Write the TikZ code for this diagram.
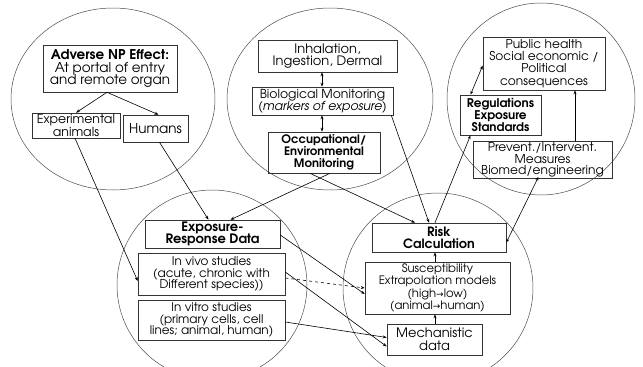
\documentclass[tikz,border=0pt]{standalone}
\usepackage{fontspec}
\setmainfont{texgyreadventor}[Extension=.otf, UprightFont=*-regular, BoldFont=*-bold, ItalicFont=*-italic, BoldItalicFont=*-bolditalic]
\newfontfamily\symfont{DejaVu Sans}
\usetikzlibrary{arrows.meta}
\newcommand{\fs}[2]{\fontsize{#1}{#2}\selectfont}
\newcommand{\rarr}{{\symfont\fontsize{9}{9}\selectfont →}}
\begin{document}
\begin{tikzpicture}[x=1pt,y=-1pt,
  circ/.style={draw=black!70, line width=0.5pt},
  box/.style={draw=black!80, line width=0.6pt, inner sep=0pt, align=center, font=\fs{12}{12}},
  arr/.style={draw=black, line width=0.6pt, -{Stealth[length=4pt,width=3pt]}},
  darr/.style={draw=black, line width=0.6pt, {Stealth[length=4pt,width=3pt]}-{Stealth[length=4pt,width=3pt]}}
]
\path[use as bounding box] (0,0) rectangle (643,367);
\begin{scope}
\clip (0,0) rectangle (643,367);
\draw[circ] (113,99) ellipse [x radius=102, y radius=91];
\draw[circ] (330,99) ellipse [x radius=103, y radius=91];
\draw[circ] (541,99) ellipse [x radius=94, y radius=96];
\draw[circ] (212,285) ellipse [x radius=95, y radius=95];
\draw[circ] (438,288) ellipse [x radius=95, y radius=95];
\end{scope}
% top-left
\node[box, font=\fs{13.5}{12.8}, minimum width=134pt, minimum height=47pt] (adv) at (110,68.5) {\textbf{Adverse NP Effect:}\\At portal of entry\\and remote organ};
\node[box, font=\fs{12.5}{11.5}, minimum width=88pt, minimum height=25pt] (expa) at (76,125.5) {Experimental\\animals};
\node[box, font=\fs{13.5}{12}, minimum width=65pt, minimum height=27pt] (hum) at (155.5,128.5) {Humans};
% top-middle
\node[box, font=\fs{13}{12.5}, minimum width=139pt, minimum height=32pt] (inh) at (327.5,56) {Inhalation,\\Ingestion, Dermal};
\node[box, font=\fs{12.4}{12}, minimum width=141pt, minimum height=28pt] (bio) at (322.5,101) {Biological Monitoring\\\textit{(markers of exposure)}};
\node[box, font=\fs{11.7}{11.8}, minimum width=112pt, minimum height=41pt] (occ) at (324,152.5) {\textbf{Occupational/}\\\textbf{Environmental}\\\textbf{Monitoring}};
% top-right
\node[box, font=\fs{12.2}{12.3}, minimum width=122pt, minimum height=53pt] (pub) at (544,63.5) {Public health\\Social economic /\\Political\\consequences};
\node[box, font=\fs{12}{11.8}, minimum width=81pt, minimum height=40pt] (reg) at (500.5,115) {\textbf{Regulations}\\\textbf{Exposure}\\\textbf{Standards}};
\node[box, font=\fs{12.2}{11.4}, minimum width=139pt, minimum height=37pt] (prev) at (542.5,160) {Prevent./Intervent.\\Measures\\Biomed/engineering};
% bottom-left
\node[box, font=\fs{13}{12.3}, minimum width=135pt, minimum height=28pt] (exr) at (212.5,234) {\textbf{Exposure-}\\\textbf{Response Data}};
\node[box, font=\fs{12}{11.8}, minimum width=147pt, minimum height=42pt] (vivo) at (211.5,274) {In vivo studies\\(acute, chronic with\\Different species))};
\node[box, font=\fs{12}{11.8}, minimum width=147pt, minimum height=40pt] (vitro) at (211.5,320) {In vitro studies\\(primary cells, cell\\lines; animal, human)};
% bottom-right
\node[box, font=\fs{12.8}{12.3}, minimum width=134pt, minimum height=29pt] (risk) at (439,237.5) {\textbf{Risk}\\\textbf{Calculation}};
\node[box, font=\fs{11.6}{12.6}, minimum width=145pt, minimum height=52pt] (susc) at (437.5,288) {Susceptibility\\Extrapolation models\\(high\rarr low)\\(animal\rarr human)};
\node[box, font=\fs{13}{12.5}, minimum width=95pt, minimum height=31pt] (mech) at (434.5,339.5) {Mechanistic\\data};
% connectors
\draw[arr] ([xshift=-3pt]adv.south) -- (expa.north);
\draw[arr] ([xshift=-3pt]adv.south) -- ([xshift=3pt]hum.north);
\draw[darr] (inh.south -| 322,0) -- (bio.north -| 322,0);
\draw[darr] (bio.south -| 322,0) -- (occ.north -| 322,0);
\draw[darr] ([yshift=-2pt]pub.west) -- ([xshift=-30pt]reg.north);
\draw[arr] (prev.north -| 575,0) -- (pub.south -| 575,0);
\draw[arr] ([xshift=-1pt]expa.south) -- ([yshift=-7pt]vivo.west);
\draw[arr] ([xshift=4pt]hum.south) -- ([xshift=-4pt]exr.north);
\draw[arr] ([xshift=6pt]occ.south) -- ([xshift=18pt]exr.north);
\draw[arr] ([xshift=-14pt]occ.south) -- ([xshift=-24pt]risk.north);
\draw[arr] ([xshift=-2pt]bio.south east) -- ([xshift=-10pt]risk.north);
\draw[arr] ([xshift=-4pt]risk.north) -- ([xshift=-30pt]reg.south);
\draw[darr] ([xshift=-4pt,yshift=2pt]prev.south) -- ([yshift=-5pt]risk.east);
\draw[arr] ([yshift=-1pt]exr.east) -- ([yshift=-6pt]susc.west);
\draw[arr, dashed] ([yshift=-4pt]vivo.east) -- ([yshift=0pt]susc.west);
\draw[arr] ([yshift=2pt]vivo.east) -- ([yshift=-7pt]mech.west);
\draw[arr] ([yshift=-2pt]vitro.east) -- ([yshift=2pt]mech.west);
\draw[arr] (susc.north -| 435,0) -- (risk.south -| 435,0);
\draw[arr] (mech.north -| 435,0) -- (susc.south -| 435,0);
\end{tikzpicture}
\end{document}
